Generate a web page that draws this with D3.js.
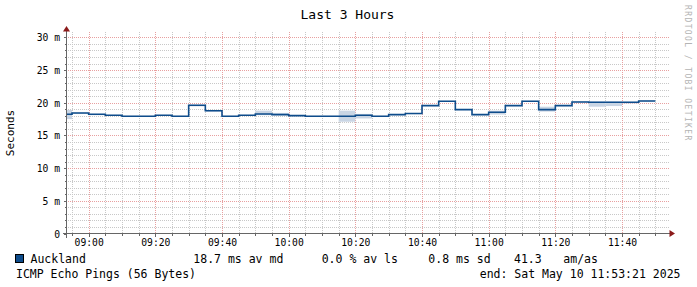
<!DOCTYPE html>
<meta charset="utf-8">
<style>
body { margin: 0; background: #fff; }
text { font-family: "DejaVu Sans Mono", monospace; fill: #000; }
.axis line, .axis path { stroke: #666; shape-rendering: crispEdges; }
</style>
<svg width="697" height="287"></svg>
<script src="https://d3js.org/d3.v7.min.js"></script>
<script>

// 5 minute rows, start time of each row
var rowStart = ["08:50","08:55","09:00","09:05","09:10","09:15","09:20","09:25","09:30","09:35",
                "09:40","09:45","09:50","09:55","10:00","10:05","10:10","10:15","10:20","10:25",
                "10:30","10:35","10:40","10:45","10:50","10:55","11:00","11:05","11:10","11:15",
                "11:20","11:25","11:30","11:35","11:40","11:45"];
// median rtt, ms
var median = [18.25,18.44,18.24,18.09,17.94,17.94,18.09,17.94,19.62,18.78,
              17.94,18.09,18.29,18.19,18.03,17.94,17.94,17.94,18.09,17.94,
              18.19,18.35,19.57,20.23,18.96,18.19,18.55,19.57,20.23,18.96,
              19.57,20.13,20.08,20.08,20.08,20.28];
// smoke band (min / max of the pings), ms
var smokeLo = [17.5,18.3,18.1,18.0,17.85,17.85,18.0,17.85,19.45,18.65,
               17.85,18.0,18.1,18.1,17.95,17.85,17.85,17.1,17.6,17.85,
               18.1,18.25,19.5,20.15,18.9,18.1,18.2,19.5,20.15,18.65,
               19.5,20.05,19.4,19.5,19.9,20.2];
var smokeHi = [18.9,18.5,18.3,18.15,18.0,18.0,18.15,18.0,19.7,18.85,
               18.0,18.15,18.8,18.45,18.1,18.0,18.0,18.8,18.3,18.0,
               18.25,18.4,19.65,20.3,19.05,18.25,18.8,19.65,20.3,19.4,
               19.65,20.2,20.2,20.2,20.15,20.35];
var lastRowEnd = "11:50";

var yTicks = [0, 5, 10, 15, 20, 25, 30];
var startTime = "08:53:21", endTime = "11:53:21";

var legend = [
  {x: 193.3, t: "18.7 ms av md"},
  {x: 321.7, t: "0.0 % av ls"},
  {x: 428.3, t: "0.8 ms sd"},
  {x: 514,   t: "41.3"},
  {x: 563.3, t: "am/as"}
];

var parseT = d3.timeParse("%Y-%m-%d %H:%M");
var parseS = d3.timeParse("%Y-%m-%d %H:%M:%S");
function day(s) { return (s.length > 5 ? parseS : parseT)("2025-05-10 " + s); }

var svg = d3.select("svg");
var pL = 66.5, pR = 666.5, pT = 33.5, pB = 233.5;

var x = d3.scaleTime().domain([day(startTime), day(endTime)]).range([pL, pR]);
var y = d3.scaleLinear().domain([0, 30.6]).range([pB, pT]);

var rows = rowStart.map(function(s, i) {
  var t0 = day(s), t1 = i + 1 < rowStart.length ? day(rowStart[i + 1]) : day(lastRowEnd);
  return {t0: t0, t1: t1, md: median[i], lo: smokeLo[i], hi: smokeHi[i]};
});

var defs = svg.append("defs");
defs.append("clipPath").attr("id", "plot")
  .append("rect").attr("x", pL).attr("y", pT - 2).attr("width", pR - pL).attr("height", pB - pT + 2);

// dotted patterns: one pixel on, one off
function dots(id, color, horiz) {
  var p = defs.append("pattern").attr("id", id).attr("patternUnits", "userSpaceOnUse")
    .attr("width", horiz ? 2 : 1).attr("height", horiz ? 1 : 2);
  p.append("rect").attr("width", 1).attr("height", 1).attr("fill", color);
}
dots("gh", "#c8c8c8", true);
dots("gv", "#c8c8c8", false);
dots("mh", "#e8a0a0", true);
dots("mv", "#e8a0a0", false);

var minorY = d3.range(1, 31).filter(function(v) { return v % 5; });
var minorX = x.ticks(d3.timeMinute.every(5)).filter(function(d) { return d.getMinutes() % 20; });
var majorX = x.ticks(d3.timeMinute.every(20));

var g = svg.append("g").attr("shape-rendering", "crispEdges");
function hGrid(vals, fill) {
  g.selectAll(null).data(vals).enter().append("rect")
    .attr("x", 67).attr("width", 602).attr("height", 1)
    .attr("y", function(d) { return Math.round(y(d)); })
    .attr("fill", fill);
}
function vGrid(vals, fill) {
  g.selectAll(null).data(vals).enter().append("rect")
    .attr("y", 31).attr("height", 202).attr("width", 1)
    .attr("x", function(d) { return Math.round(x(d)); })
    .attr("fill", fill);
}
hGrid(minorY, "url(#gh)");
vGrid(minorX, "url(#gv)");
hGrid(yTicks.slice(1), "url(#mh)");
vGrid(majorX, "url(#mv)");

// smoke and median
var plot = svg.append("g").attr("clip-path", "url(#plot)");
plot.selectAll(".smoke").data(rows).enter().append("rect")
  .attr("x", function(d) { return x(d.t0); })
  .attr("width", function(d) { return x(d.t1) - x(d.t0); })
  .attr("y", function(d) { return y(d.hi); })
  .attr("height", function(d) { return y(d.lo) - y(d.hi); })
  .attr("fill", "#c9d5e4");

var pts = rows.map(function(d) { return [d.t0, d.md]; });
pts.push([rows[rows.length - 1].t1, rows[rows.length - 1].md]);
plot.append("path")
  .datum(pts)
  .attr("fill", "none")
  .attr("stroke", "#0e4c8b")
  .attr("stroke-width", 1.6)
  .attr("d", d3.line().curve(d3.curveStepAfter)
    .x(function(d) { return x(d[0]); })
    .y(function(d) { return y(d[1]); }));

// axes
var yAxis = svg.append("g").attr("class", "axis").attr("transform", "translate(" + pL + ",0)")
  .call(d3.axisLeft(y).tickValues(yTicks).tickSize(3).tickSizeOuter(0)
    .tickFormat(function(d) { return d === 0 ? "0" : d + " m"; }));
yAxis.select(".domain").remove();
yAxis.selectAll("text").attr("x", -6.5).attr("dy", "0.36em").style("font-size", "9.7px");
var yMinor = svg.append("g").attr("class", "axis").attr("transform", "translate(" + pL + ",0)")
  .call(d3.axisLeft(y).tickValues(minorY).tickSize(2).tickFormat(""));
yMinor.select(".domain").remove();

var xAxis = svg.append("g").attr("class", "axis").attr("transform", "translate(0," + pB + ")")
  .call(d3.axisBottom(x).tickValues(majorX).tickSize(3).tickSizeOuter(0)
    .tickFormat(d3.timeFormat("%H:%M")));
xAxis.select(".domain").remove();
xAxis.selectAll("text").attr("y", 12).attr("dy", 0).style("font-size", "9.7px");
var xMinor = svg.append("g").attr("class", "axis").attr("transform", "translate(0," + pB + ")")
  .call(d3.axisBottom(x).tickValues(minorX).tickSize(2).tickFormat(""));
xMinor.select(".domain").remove();

var ax = svg.append("g").attr("stroke", "#666").attr("shape-rendering", "crispEdges");
ax.append("line").attr("x1", pL).attr("x2", pL).attr("y1", pB + 4).attr("y2", pT - 3);
ax.append("line").attr("x1", pL - 4).attr("x2", pR + 4).attr("y1", pB).attr("y2", pB);
svg.append("path").attr("fill", "#8b1a1a")
  .attr("d", "M" + (pL - 3.5) + "," + (pT - 2) + "L" + pL + "," + (pT - 7.5) + "L" + (pL + 3.5) + "," + (pT - 2) + "Z");
svg.append("path").attr("fill", "#8b1a1a")
  .attr("d", "M" + (pR + 3) + "," + (pB - 3.5) + "L" + (pR + 8.5) + "," + pB + "L" + (pR + 3) + "," + (pB + 3.5) + "Z");

// texts
svg.append("text").attr("x", 347.5).attr("y", 18.5).attr("text-anchor", "middle")
  .style("font-size", "13px").text("Last 3 Hours");
svg.append("text").attr("transform", "translate(14,133) rotate(-90)").attr("text-anchor", "middle")
  .style("font-size", "11px").text("Seconds");
svg.append("text").attr("transform", "translate(684.5,5) rotate(90)")
  .style("font-size", "8px").style("letter-spacing", "1.4px").style("fill", "#b4b4b4")
  .text("RRDTOOL / TOBI OETIKER");

svg.append("rect").attr("x", 15.5).attr("y", 254.5).attr("width", 8).attr("height", 8)
  .attr("fill", "#0e4c8b").attr("stroke", "#000");
svg.append("text").attr("x", 30.5).attr("y", 263).style("font-size", "11.5px").text("Auckland");
svg.selectAll(".leg").data(legend).enter().append("text")
  .attr("x", function(d) { return d.x; }).attr("y", 263)
  .style("font-size", "11.5px")
  .text(function(d) { return d.t; });
svg.append("text").attr("x", 16).attr("y", 277.5).style("font-size", "11.5px")
  .text("ICMP Echo Pings (56 Bytes)");
svg.append("text").attr("x", 680.5).attr("y", 277.5).attr("text-anchor", "end")
  .style("font-size", "11.5px").text("end: Sat May 10 11:53:21 2025");

</script>
